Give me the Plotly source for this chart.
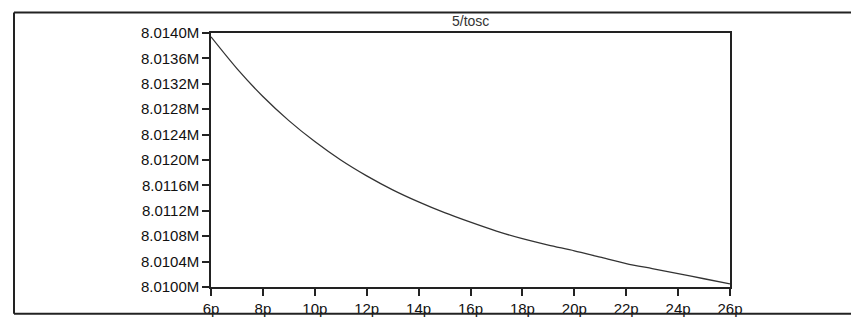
import plotly.graph_objects as go

# x in pico-units, y in mega-units
x_p = [6, 7, 8, 9, 10, 11, 12, 13, 14, 15, 16, 17, 18, 19, 20, 21, 22, 23, 24, 25, 26]
y_M = [8.01394, 8.01344, 8.01300, 8.01262, 8.01229, 8.01200, 8.01175, 8.01153,
       8.01134, 8.01117, 8.01102, 8.01088, 8.01076, 8.01066, 8.01057, 8.01047,
       8.01037, 8.01029, 8.01021, 8.01013, 8.01005]

x_ticks = [6, 8, 10, 12, 14, 16, 18, 20, 22, 24, 26]
x_ticktext = ["6p", "8p", "10p", "12p", "14p", "16p", "18p", "20p", "22p", "24p", "26p"]
y_ticks = [8.0100, 8.0104, 8.0108, 8.0112, 8.0116, 8.0120, 8.0124, 8.0128, 8.0132, 8.0136, 8.0140]
y_ticktext = ["8.0100M", "8.0104M", "8.0108M", "8.0112M", "8.0116M", "8.0120M",
              "8.0124M", "8.0128M", "8.0132M", "8.0136M", "8.0140M"]

W, H = 859, 321
L, R, T, B = 203, 722, 25, 290

fig = go.Figure()
fig.add_trace(go.Scatter(x=x_p, y=y_M, mode="lines",
                         line=dict(color="#333333", width=1.3, shape="spline", smoothing=0.8),
                         hoverinfo="skip", showlegend=False))

font = dict(family="Liberation Sans, Arial, sans-serif", size=15, color="#111111")
fig.update_layout(
    width=W, height=H,
    margin=dict(l=L, r=W - R, t=T, b=H - B, pad=0),
    paper_bgcolor="white", plot_bgcolor="white",
    showlegend=False,
    xaxis=dict(range=[6, 26], tickvals=x_ticks, ticktext=x_ticktext,
               showgrid=False, zeroline=False, showline=True, mirror=True,
               linecolor="#222222", linewidth=1.5, ticks="outside", ticklen=7,
               tickcolor="#222222", tickwidth=1.5, tickfont=font, ticklabelstandoff=0),
    yaxis=dict(range=[8.0100, 8.0140], tickvals=y_ticks, ticktext=y_ticktext,
               showgrid=False, zeroline=False, showline=True, mirror=True,
               linecolor="#222222", linewidth=1.5, ticks="outside", ticklen=7,
               tickcolor="#222222", tickwidth=1.5, tickfont=font),
)

fig.add_annotation(text="5/tosc", xref="paper", yref="paper", x=0.5,
                   y=(B - 13) / (B - T), xanchor="center", yanchor="middle",
                   showarrow=False,
                   font=dict(family="Liberation Sans, Arial, sans-serif", size=14, color="#333333"))

pw, ph = R - L, B - T
def px(xp):
    return (xp - L) / pw
def py(yp):
    return (B - yp) / ph

border = dict(color="#222222", width=2)
fig.add_shape(type="line", xref="paper", yref="paper", x0=px(6), x1=px(870), y0=py(3.5), y1=py(3.5), line=border)
fig.add_shape(type="line", xref="paper", yref="paper", x0=px(6), x1=px(870), y0=py(318), y1=py(318), line=border)
fig.add_shape(type="line", xref="paper", yref="paper", x0=px(6), x1=px(6), y0=py(3.5), y1=py(318), line=border)

fig.write_html("out.html")
